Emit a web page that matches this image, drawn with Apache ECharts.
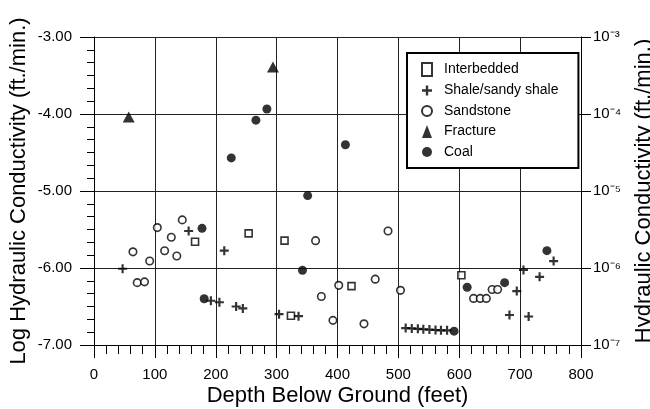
<!DOCTYPE html>
<html>
<head>
<meta charset="utf-8">
<script src="https://cdn.jsdelivr.net/npm/echarts@6/dist/echarts.min.js"></script>
<style>html,body{margin:0;padding:0;background:#fff}#c{width:650px;height:409px}</style>
</head>
<body>
<div id="c"></div>
<script>
// Depth (feet), log hydraulic conductivity (ft./min.)
const interbedded = [[166,-5.66],[254,-5.55],[313,-5.645],[323.5,-6.62],[423,-6.235],[603.5,-6.095]];
const shale = [[47,-6.01],[155.5,-5.52],[214,-5.775],[192,-6.425],[206,-6.445],[233.5,-6.50],[244.5,-6.525],
  [304,-6.60],[336,-6.625],[512,-6.78],[522,-6.785],[532,-6.79],[541,-6.795],[551,-6.80],[561,-6.805],
  [570,-6.81],[580,-6.81],[682.5,-6.61],[694.5,-6.30],[705.5,-6.025],[714,-6.63],[732,-6.115],[755,-5.91]];
const sandstone = [[64,-5.79],[71,-6.19],[83,-6.18],[91.5,-5.91],[104,-5.475],[116,-5.775],[127,-5.60],
  [136,-5.845],[145,-5.375],[364,-5.645],[373.5,-6.37],[392.5,-6.68],[402,-6.225],[443.5,-6.725],
  [462,-6.145],[483,-5.52],[503.5,-6.29],[623.5,-6.395],[634.5,-6.395],[644.5,-6.395],[654,-6.28],[663,-6.28]];
const fracture = [[57,-4.04],[294,-3.39]];
const coal = [[177.5,-5.485],[181,-6.40],[225.5,-4.57],[266,-4.08],[284,-3.935],[342.5,-6.03],[351,-5.06],
  [413,-4.40],[591.5,-6.82],[613,-6.25],[674.5,-6.19],[744,-5.775]];
const xTicks = [0,100,200,300,400,500,600,700,800];
const yTicks = [-7,-6,-5,-4,-3];
const supDigits = {'-':'\u207B','0':'\u2070','1':'\u00B9','2':'\u00B2','3':'\u00B3','4':'\u2074','5':'\u2075','6':'\u2076','7':'\u2077','8':'\u2078','9':'\u2079'};

const FONT = "'Liberation Sans Narrow','Liberation Sans',Arial,sans-serif";
const FONT2 = "'Liberation Sans',Arial,sans-serif";
const plus = 'path://M3.8,0H6.2V3.8H10V6.2H6.2V10H3.8V6.2H0V3.8H3.8Z';

const chart = echarts.init(document.getElementById('c'), null, {renderer:'canvas'});
chart.setOption({
  animation:false,
  backgroundColor:'#fff',
  grid:{left:94, right:69, top:37, bottom:64, containLabel:false, outerBoundsMode:'none'},
  legend:{
    orient:'vertical', left:407, top:53, width:175,
    backgroundColor:'#fff', borderColor:'#000', borderWidth:2,
    padding:[9,20,9,14], itemGap:6.5, itemWidth:10, itemHeight:13,
    textStyle:{fontFamily:FONT2, fontSize:14, color:'#000', padding:[0,0,0,7]},
    data:['Interbedded','Shale/sandy shale','Sandstone','Fracture','Coal']
  },
  xAxis:{
    type:'value', min:0, max:800, interval:100,
    name:'Depth Below Ground (feet)', nameLocation:'middle', nameGap:40, nameMoveOverlap:false,
    nameTextStyle:{fontFamily:FONT2, fontSize:22, color:'#000'},
    axisLine:{lineStyle:{color:'#000', width:1}},
    axisTick:{show:true, inside:false, length:13, lineStyle:{color:'#000'}},
    minorTick:{show:true, splitNumber:5, length:9, lineStyle:{color:'#000'}},
    axisLabel:{fontFamily:FONT, fontSize:15, color:'#000', margin:22,
      formatter:v=>xTicks.includes(v)?String(v):''},
    splitLine:{show:true, lineStyle:{color:'#222', width:1}}
  },
  yAxis:[{
    type:'value', min:-7, max:-3, interval:1, position:'left',
    name:'Log Hydraulic Conductivity (ft./min.)', nameLocation:'middle', nameGap:64, nameMoveOverlap:false,
    nameTextStyle:{fontFamily:FONT2, fontSize:22, color:'#000'},
    axisLine:{show:true, lineStyle:{color:'#000', width:1}},
    axisTick:{show:true, length:14, lineStyle:{color:'#000'}},
    minorTick:{show:true, splitNumber:6, length:7, lineStyle:{color:'#000'}},
    axisLabel:{fontFamily:FONT, fontSize:15, color:'#000', margin:22,
      formatter:v=>yTicks.includes(v)?v.toFixed(2):''},
    splitLine:{show:true, lineStyle:{color:'#222', width:1}}
  },{
    type:'value', min:-7, max:-3, interval:1, position:'right',
    name:'Hydraulic Conductivity (ft./min.)', nameLocation:'middle', nameGap:52, nameMoveOverlap:false,
    nameRotate:90,
    nameTextStyle:{fontFamily:FONT2, fontSize:22, color:'#000'},
    axisLine:{show:true, lineStyle:{color:'#000', width:1}},
    axisTick:{show:true, length:10, lineStyle:{color:'#000'}},
    axisLabel:{fontFamily:FONT, fontSize:15, color:'#000', margin:12,
      formatter:v=>'10'+String(v).split('').map(c=>supDigits[c]||c).join('')},
    splitLine:{show:false}
  }],
  series:[
    {name:'Interbedded', type:'scatter', data:interbedded, symbol:'rect', symbolSize:7,
      itemStyle:{color:'#fff', borderColor:'#000', borderWidth:1.6}, z:3},
    {name:'Shale/sandy shale', type:'scatter', data:shale, symbol:plus, symbolSize:9,
      itemStyle:{color:'#000'}, z:3},
    {name:'Sandstone', type:'scatter', data:sandstone, symbol:'circle', symbolSize:7.5,
      itemStyle:{color:'#fff', borderColor:'#000', borderWidth:1.6}, z:3},
    {name:'Fracture', type:'scatter', data:fracture, symbol:'triangle', symbolSize:[12,11],
      itemStyle:{color:'#000'}, z:3},
    {name:'Coal', type:'scatter', data:coal, symbol:'circle', symbolSize:9,
      itemStyle:{color:'#000'}, z:4}
  ]
});
</script>
</body>
</html>
